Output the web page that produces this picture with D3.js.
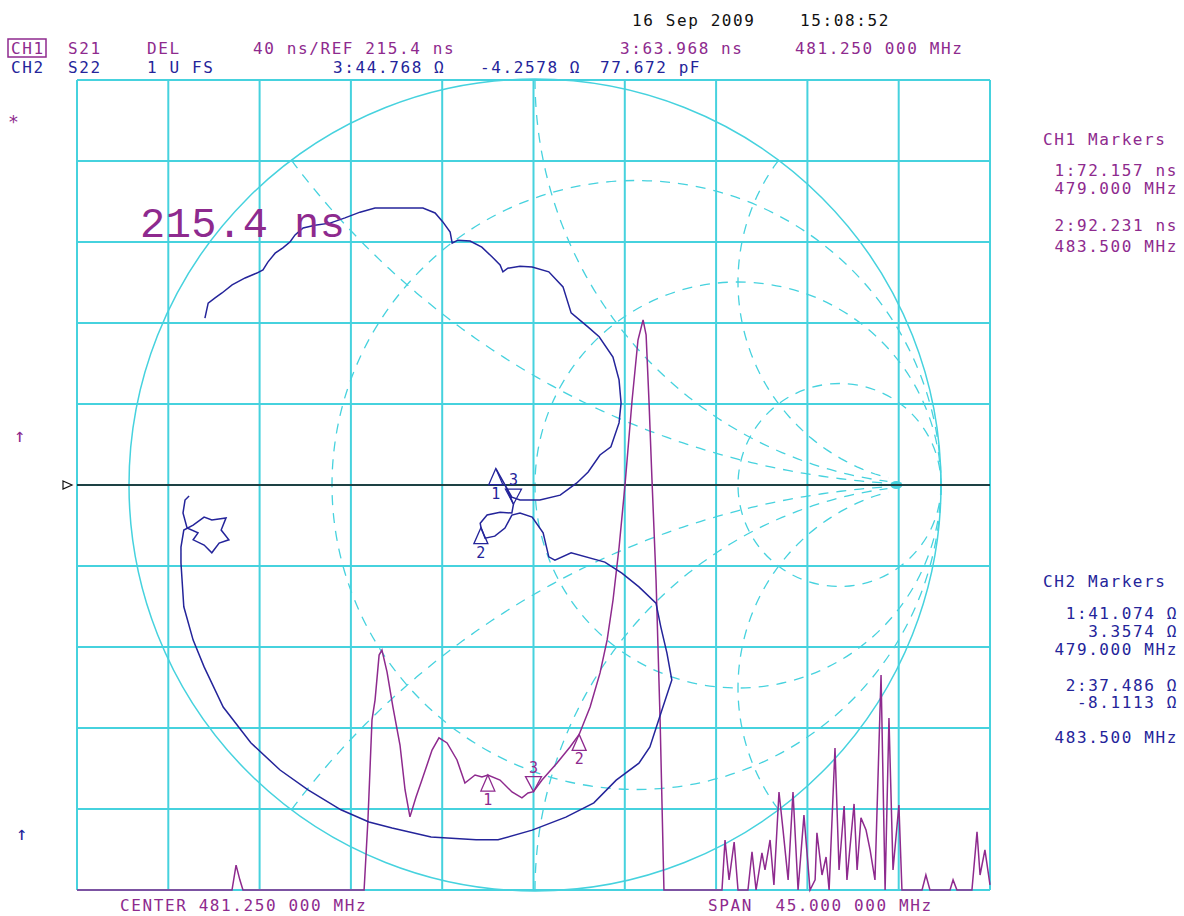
<!DOCTYPE html>
<html lang="en">
<head>
<meta charset="UTF-8">
<title>S21 delay / S22 Smith</title>
<script src="https://d3js.org/d3.v7.min.js"></script>
<style>
  body { margin: 0; background: #fff; }
  text { font-family: "DejaVu Sans Mono", monospace; }
</style>
</head>
<body>
<script>
// CH1  S21 group delay (ns) against frequency (MHz)
var freqMHz = [458.75, 466.39, 466.59, 466.78, 466.93, 472.90, 473.09, 473.29, 473.44, 473.64,
  473.78, 474.03, 474.32, 474.67, 474.92, 475.16, 475.46, 475.75, 476.25, 476.59,
  476.99, 477.48, 477.87, 478.37, 478.71, 479.00, 479.60, 480.19, 480.68, 480.98,
  481.25, 481.67, 482.41, 483.05, 483.50, 484.04, 484.53, 484.88, 485.17, 485.47,
  485.76, 486.11, 486.40, 486.65, 486.80, 486.94, 487.09, 487.29, 487.49, 487.68,
  490.54, 490.69, 490.89, 491.14, 491.33, 491.82, 492.02, 492.22, 492.51, 492.66,
  492.91, 493.10, 493.35, 493.55, 493.80, 494.04, 494.29, 494.58, 494.88, 495.13,
  495.22, 495.47, 495.67, 495.82, 496.11, 496.31, 496.56, 496.70, 497.05, 497.20,
  497.39, 497.64, 497.84, 498.08, 498.38, 498.58, 498.77, 498.97, 499.26, 499.41,
  500.40, 500.59, 500.79, 501.78, 501.93, 502.12, 502.86, 503.11, 503.26, 503.50, 503.75];
var delayNs = [15.4, 15.4, 27.7, 20.3, 15.4, 15.4, 50.0, 99.4, 109.2, 131.4,
  133.9, 123.1, 105.8, 87.0, 64.8, 51.5, 61.3, 69.7, 84.5, 90.5,
  88.0, 79.6, 68.2, 72.2, 71.2, 72.157, 69.7, 63.8, 60.9, 63.3,
  63.968, 69.7, 78.1, 86.0, 92.231, 105.8, 122.6, 138.9, 158.6, 184.8,
  215.4, 257.4, 287.0, 296.9, 289.5, 257.4, 217.9, 168.5, 99.4, 15.4,
  15.4, 40.1, 20.4, 39.1, 15.4, 15.4, 34.2, 15.4, 33.7, 25.3,
  40.1, 17.9, 63.8, 45.0, 20.4, 63.8, 15.4, 52.4, 15.4, 20.4,
  43.6, 22.8, 31.7, 15.4, 85.5, 25.3, 56.9, 20.4, 57.9, 25.3,
  51.0, 45.0, 35.2, 20.4, 121.6, 15.4, 100.3, 25.3, 57.4, 15.4,
  15.4, 22.8, 15.4, 15.4, 20.4, 15.4, 15.4, 44.1, 22.8, 35.2, 17.9];

// CH2  S22 reflection coefficient, real / imaginary part
var s22Re = [-0.813,-0.805,-0.788,-0.771,-0.746,-0.714,-0.685,-0.670,-0.658,-0.640,
  -0.621,-0.603,-0.591,-0.571,-0.542,-0.505,-0.468,-0.431,-0.394,-0.333,
  -0.276,-0.246,-0.227,-0.209,-0.204,-0.190,-0.160,-0.131,-0.106,-0.086,
  -0.079,-0.067,-0.037,-0.007,0.034,0.069,0.089,0.131,0.158,0.192,
  0.207,0.212,0.207,0.187,0.160,0.131,0.103,0.062,0.012,-0.037,
  -0.057,-0.096,-0.074,-0.053,-0.057,-0.086,-0.118,-0.135,-0.133,-0.123,
  -0.099,-0.074,-0.057,-0.037,-0.007,0.020,0.034,0.049,0.089,0.172,
  0.214,0.256,0.298,0.310,0.325,0.337,0.310,0.283,0.256,0.200,
  0.145,0.076,-0.007,-0.091,-0.145,-0.256,-0.352,-0.409,-0.478,-0.559,
  -0.628,-0.700,-0.768,-0.815,-0.842,-0.865,-0.872,-0.872,-0.865,-0.842,
  -0.815,-0.796,-0.761,-0.773,-0.754,-0.778,-0.796,-0.815,-0.842,-0.830,
  -0.857,-0.867,-0.862,-0.852];
var s22Im = [0.411,0.448,0.461,0.473,0.493,0.510,0.522,0.530,0.549,0.571,
  0.584,0.599,0.616,0.633,0.640,0.645,0.658,0.672,0.682,0.682,
  0.682,0.670,0.648,0.623,0.596,0.603,0.601,0.586,0.562,0.542,
  0.525,0.534,0.539,0.537,0.525,0.488,0.424,0.389,0.365,0.315,
  0.259,0.202,0.153,0.094,0.074,0.032,0.005,-0.025,-0.037,-0.037,
  -0.030,0.040,0.000,-0.047,-0.069,-0.067,-0.074,-0.094,-0.105,-0.131,
  -0.126,-0.106,-0.074,-0.069,-0.079,-0.118,-0.177,-0.185,-0.167,-0.190,
  -0.217,-0.251,-0.291,-0.350,-0.414,-0.480,-0.562,-0.645,-0.685,-0.727,
  -0.783,-0.818,-0.850,-0.874,-0.874,-0.867,-0.845,-0.830,-0.800,-0.751,
  -0.702,-0.635,-0.547,-0.448,-0.382,-0.300,-0.192,-0.153,-0.111,-0.099,
  -0.079,-0.086,-0.081,-0.111,-0.135,-0.143,-0.167,-0.148,-0.135,-0.118,
  -0.106,-0.069,-0.037,-0.027];

// markers
var ch1MarkerFreq = [479.0, 483.5, 481.25];
var ch1MarkerNs = [72.157, 92.231, 63.968];
var ch2MarkerR = [41.074, 37.486, 44.768];
var ch2MarkerX = [3.3574, -8.1113, -4.2578];
var markerLabels = ["1", "2", "3"];

// graticule
var resistanceCircles = [1 / 3, 1, 3];
var reactanceArcs = [0.5, 1, 2];
var startMHz = 458.75, spanMHz = 45, refNs = 215.4, nsPerDiv = 40, z0 = 50;

var cyan = "#46d2de", mag = "#8e2a8e", navy = "#24249a";

var svg = d3.select("body").append("svg")
    .attr("width", 1184).attr("height", 916);

var gx = d3.scaleLinear().domain([0, 10]).range([77, 990]);
var gy = d3.scaleLinear().domain([0, 10]).range([80, 890]);
var x = d3.scaleLinear().domain([startMHz, startMHz + spanMHz]).range([77, 990]);
var y = d3.scaleLinear().domain([refNs - 5 * nsPerDiv, refNs + 5 * nsPerDiv]).range([890, 80]).clamp(true);
var sx = d3.scaleLinear().domain([-1, 1]).range([535 - 406, 535 + 406]);
var sy = d3.scaleLinear().domain([-1, 1]).range([485 + 406, 485 - 406]);

// grid
svg.append("g").selectAll("line.v").data(d3.range(11)).enter().append("line")
    .attr("x1", d => gx(d)).attr("x2", d => gx(d)).attr("y1", 80).attr("y2", 890)
    .attr("stroke", cyan).attr("stroke-width", 2);
svg.append("g").selectAll("line.h").data(d3.range(11)).enter().append("line")
    .attr("y1", d => gy(d)).attr("y2", d => gy(d)).attr("x1", 77).attr("x2", 990)
    .attr("stroke", cyan).attr("stroke-width", 2);

// smith chart
var smith = svg.append("g").attr("fill", "none").attr("stroke", cyan);
smith.append("circle").attr("cx", sx(0)).attr("cy", sy(0)).attr("r", sx(1) - sx(0))
    .attr("stroke-width", 1.5);
smith.selectAll("circle.r").data(resistanceCircles).enter().append("circle")
    .attr("cx", d => sx(d / (1 + d))).attr("cy", sy(0))
    .attr("r", d => sx(1 / (1 + d)) - sx(0))
    .attr("stroke-width", 1.3).attr("stroke-dasharray", "10,8");

// reactance arcs, from the rim in towards the right end (stopped short, as drawn)
var arcLine = d3.line().x(d => sx(d[0])).y(d => sy(d[1]));
var arcs = [];
reactanceArcs.forEach(function(xv) {
    [1, -1].forEach(function(s) {
        var xx = xv * s;
        var pts = d3.range(0, Math.atan(16), 0.01).map(function(t) {
            var r = Math.tan(t);
            var den = (r + 1) * (r + 1) + xx * xx;
            return [(r * r + xx * xx - 1) / den, 2 * xx / den];
        });
        arcs.push(pts);
    });
});
smith.selectAll("path.x").data(arcs).enter().append("path")
    .attr("d", arcLine).attr("stroke-width", 1.3).attr("stroke-dasharray", "10,8");
smith.append("ellipse").attr("cx", sx(0.89)).attr("cy", sy(0)).attr("rx", 6).attr("ry", 4)
    .attr("fill", cyan).attr("stroke", "none");

// reference line + pointer
svg.append("line").attr("x1", 77).attr("x2", 990).attr("y1", y(refNs)).attr("y2", y(refNs))
    .attr("stroke", "#111").attr("stroke-width", 1.6);
svg.append("path").attr("d", "M63," + (y(refNs) - 4) + "L72," + y(refNs) + "L63," + (y(refNs) + 4) + "Z")
    .attr("fill", "none").attr("stroke", "#111").attr("stroke-width", 1.2);

// CH1 trace
var ch1 = freqMHz.map((f, i) => [f, delayNs[i]]);
svg.append("path").datum(ch1)
    .attr("d", d3.line().x(d => x(d[0])).y(d => y(d[1])))
    .attr("fill", "none").attr("stroke", mag).attr("stroke-width", 1.5);

// CH2 trace
var ch2 = s22Re.map((r, i) => [r, s22Im[i]]);
svg.append("path").datum(ch2)
    .attr("d", d3.line().x(d => sx(d[0])).y(d => sy(d[1])))
    .attr("fill", "none").attr("stroke", navy).attr("stroke-width", 1.5);

function marker(px, py, label, active, color) {
    var g = svg.append("g").attr("stroke", color).attr("fill", "none").attr("stroke-width", 1.3);
    if (active) {
        g.append("path").attr("d", "M" + (px - 8) + "," + (py - 15) + "L" + (px + 8) + "," + (py - 15) + "L" + px + "," + py + "Z");
        g.append("text").attr("x", px).attr("y", py - 19).attr("text-anchor", "middle")
            .attr("fill", color).attr("stroke", "none").style("font-size", "15px").text(label);
    } else {
        g.append("path").attr("d", "M" + px + "," + py + "L" + (px - 7) + "," + (py + 16) + "L" + (px + 7) + "," + (py + 16) + "Z");
        g.append("text").attr("x", px).attr("y", py + 30).attr("text-anchor", "middle")
            .attr("fill", color).attr("stroke", "none").style("font-size", "15px").text(label);
    }
}
ch1MarkerFreq.forEach(function(f, i) {
    marker(x(f), y(ch1MarkerNs[i]), markerLabels[i], i === 2, mag);
});
ch2MarkerR.forEach(function(r, i) {
    // gamma = (Z - Z0) / (Z + Z0)
    var a = r - z0, b = ch2MarkerX[i], c = r + z0, d = ch2MarkerX[i];
    var den = c * c + d * d;
    var gr = (a * c + b * d) / den, gi = (b * c - a * d) / den;
    marker(sx(gr), sy(gi), markerLabels[i], i === 2, navy);
});

// text
function txt(tx, ty, s, color, anchor, size) {
    return svg.append("text").attr("x", tx).attr("y", ty).attr("fill", color)
        .attr("text-anchor", anchor || "start")
        .style("font-size", (size || 16) + "px").style("letter-spacing", "1.6px")
        .attr("xml:space", "preserve").text(s);
}
txt(632, 26, "16 Sep 2009", "#111");
txt(800, 26, "15:08:52", "#111");

svg.append("rect").attr("x", 8).attr("y", 39).attr("width", 38).attr("height", 18)
    .attr("fill", "none").attr("stroke", mag).attr("stroke-width", 1.5);
txt(11, 54, "CH1", mag);
txt(68, 54, "S21", mag);
txt(147, 54, "DEL", mag);
txt(253, 54, "40 ns/REF 215.4 ns", mag);
txt(620, 54, "3:63.968 ns", mag);
txt(795, 54, "481.250 000 MHz", mag);

txt(11, 73, "CH2", navy);
txt(68, 73, "S22", navy);
txt(147, 73, "1 U FS", navy);
txt(333, 73, "3:44.768 Ω", navy);
txt(480, 73, "-4.2578 Ω", navy);
txt(600, 73, "77.672 pF", navy);

txt(8, 128, "*", mag, "start", 18);
txt(14, 442, "↑", mag, "start", 19);
txt(16, 840, "↑", navy, "start", 19);

svg.append("text").attr("x", 140).attr("y", 237).attr("fill", mag)
    .attr("textLength", 205).style("font-size", "42px").style("font-family", "'Liberation Mono', monospace")
    .text("215.4 ns");

txt(1043, 145, "CH1 Markers", mag);
txt(1178, 176, "1:72.157 ns", mag, "end");
txt(1178, 194, "479.000 MHz", mag, "end");
txt(1178, 231, "2:92.231 ns", mag, "end");
txt(1178, 252, "483.500 MHz", mag, "end");

txt(1043, 587, "CH2 Markers", navy);
txt(1178, 619, "1:41.074 Ω", navy, "end");
txt(1178, 637, "3.3574 Ω", navy, "end");
txt(1178, 655, "479.000 MHz", navy, "end");
txt(1178, 691, "2:37.486 Ω", navy, "end");
txt(1178, 708, "-8.1113 Ω", navy, "end");
txt(1178, 743, "483.500 MHz", navy, "end");

txt(120, 911, "CENTER 481.250 000 MHz", mag);
txt(708, 911, "SPAN  45.000 000 MHz", mag);
</script>
</body>
</html>
